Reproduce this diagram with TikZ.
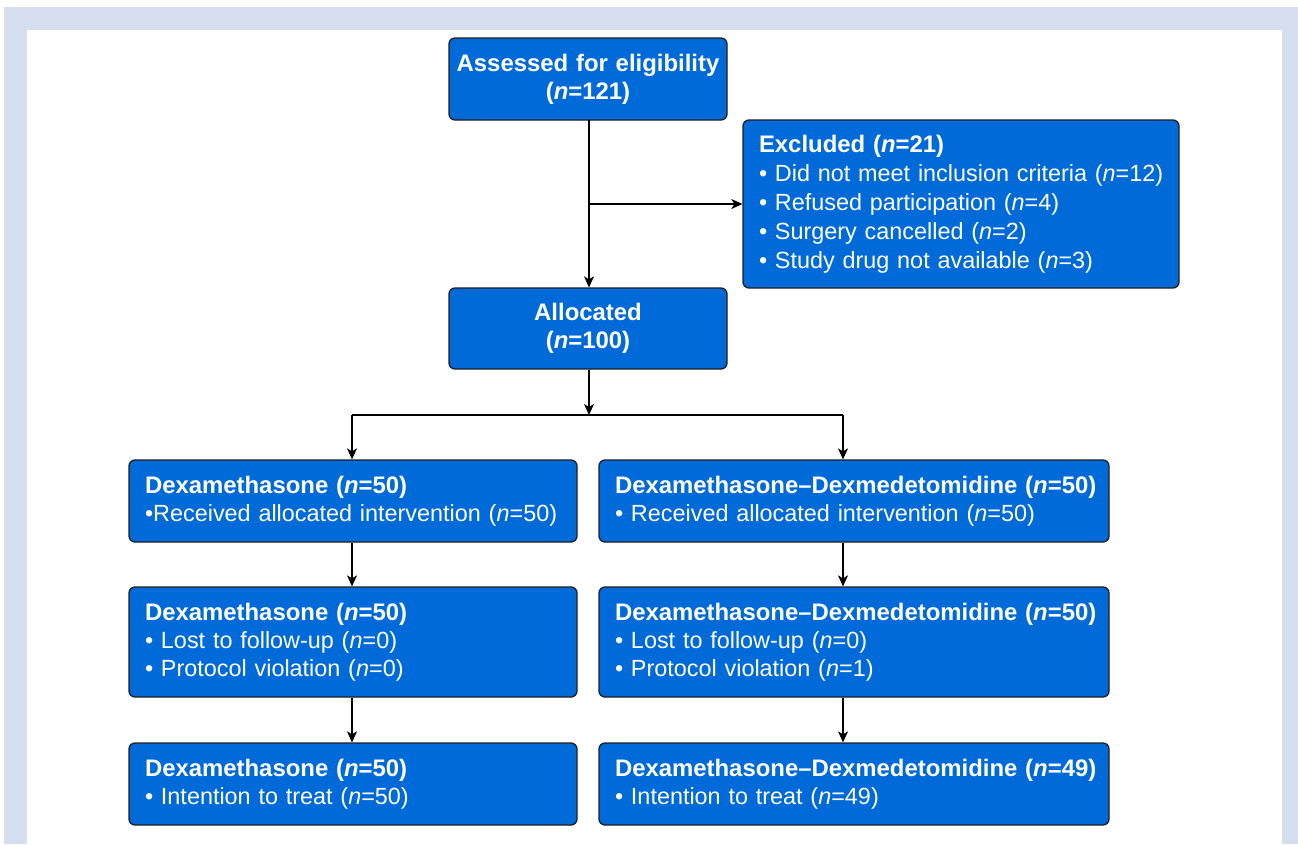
\documentclass[tikz,border=0pt]{standalone}
\usepackage{fontspec}
\setmainfont{Liberation Sans}
\usetikzlibrary{arrows.meta}
\definecolor{framec}{RGB}{213,222,239}
\definecolor{boxc}{RGB}{0,106,217}
\definecolor{edgec}{RGB}{30,30,35}
\tikzset{
  box/.style={draw=edgec, line width=1.3pt, fill=boxc, rounded corners=6pt,
    text=white, inner ysep=0pt, minimum height=#1,
    font=\fontsize{23.4}{28}\selectfont},
  lbox/.style={box=#1, align=left, inner xsep=16pt},
  cbox/.style={box=#1, align=center, inner xsep=5pt},
  arr/.style={line width=1.3pt, draw=black, -{Stealth[length=11pt,width=10pt,inset=3pt]}},
  ln/.style={line width=1.3pt, draw=black},
}
\newcommand{\nn}{\textit{n}}
\newcommand{\ml}[1]{\mbox{#1}}
\newcommand{\hb}[1]{\mbox{\fontsize{23.9}{28}\selectfont\textbf{#1}}}
\begin{document}
\begin{tikzpicture}[x=1pt,y=-1pt]
\useasboundingbox (0,0) rectangle (1298,844);
\fill[framec] (4,7) rectangle (1298,844);
\fill[white] (27,30) rectangle (1282,844);

\node[cbox=82pt, text width=268pt] (A) at (588,79) {\hb{Assessed for eligibility}\\\hb{(\nn=121)}};
\node[lbox=168pt, text width=404pt, font=\fontsize{23.4}{29}\selectfont] (E) at (961,204) {\hb{Excluded (\nn=21)}\\
\ml{• Did not meet inclusion criteria (\nn=12)}\\
\ml{• Refused participation (\nn=4)}\\
\ml{• Surgery cancelled (\nn=2)}\\
\ml{• Study drug not available (\nn=3)}};
\node[cbox=81pt, text width=268pt] (Al) at (588,328.5) {\hb{Allocated}\\\hb{(\nn=100)}};

\node[lbox=82pt, text width=416pt] (L1) at (353,501) {\hb{Dexamethasone (\nn=50)}\\\ml{•Received allocated intervention (\nn=50)}};
\node[lbox=82pt, text width=478pt] (R1) at (854,501) {\hb{Dexamethasone–Dexmedetomidine (\nn=50)}\\\ml{• Received allocated intervention (\nn=50)}};

\node[lbox=110pt, text width=416pt] (L2) at (353,642) {\hb{Dexamethasone (\nn=50)}\\\ml{• Lost to follow-up (\nn=0)}\\\ml{• Protocol violation (\nn=0)}};
\node[lbox=110pt, text width=478pt] (R2) at (854,642) {\hb{Dexamethasone–Dexmedetomidine (\nn=50)}\\\ml{• Lost to follow-up (\nn=0)}\\\ml{• Protocol violation (\nn=1)}};

\node[lbox=82pt, text width=416pt] (L3) at (353,784) {\hb{Dexamethasone (\nn=50)}\\\ml{• Intention to treat (\nn=50)}};
\node[lbox=82pt, text width=478pt] (R3) at (854,784) {\hb{Dexamethasone–Dexmedetomidine (\nn=49)}\\\ml{• Intention to treat (\nn=49)}};

\coordinate (top) at (589,120);
\coordinate (br) at (589,204);
\coordinate (split) at (589,415);
\coordinate (sl) at (352,415);
\coordinate (sr) at (843,415);

\draw[arr] (top) -- (top |- Al.north);
\draw[arr] (br) -- (E.west |- br);
\draw[arr] (split |- Al.south) -- (split);
\draw[ln] (sl) -- (sr);
\draw[arr] (sl) -- (sl |- L1.north);
\draw[arr] (sr) -- (sr |- R1.north);
\draw[arr] (sl |- L1.south) -- (sl |- L2.north);
\draw[arr] (sr |- R1.south) -- (sr |- R2.north);
\draw[arr] (sl |- L2.south) -- (sl |- L3.north);
\draw[arr] (sr |- R2.south) -- (sr |- R3.north);
\end{tikzpicture}
\end{document}
